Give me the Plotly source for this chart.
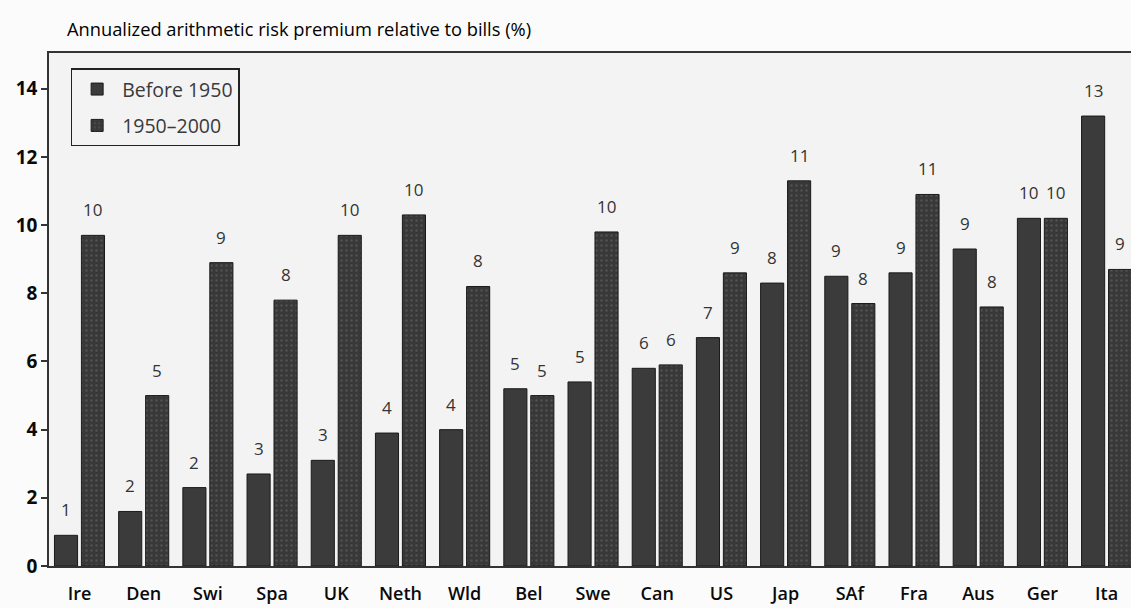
import plotly.graph_objects as go

# Annualized arithmetic equity risk premium relative to bills (%), by market
countries = ["Ire", "Den", "Swi", "Spa", "UK", "Neth", "Wld", "Bel", "Swe",
             "Can", "US", "Jap", "SAf", "Fra", "Aus", "Ger", "Ita"]
before_1950 = [0.9, 1.6, 2.3, 2.7, 3.1, 3.9, 4.0, 5.2, 5.4,
               5.8, 6.7, 8.3, 8.5, 8.6, 9.3, 10.2, 13.2]
after_1950 = [9.7, 5.0, 8.9, 7.8, 9.7, 10.3, 8.2, 5.0, 9.8,
              5.9, 8.6, 11.3, 7.7, 10.9, 7.6, 10.2, 8.7]
series_names = ["Before 1950", "1950\u20132000"]

FONT = "Open Sans"
BG = "#f3f3f3"
BAR_W = 0.36
OFFSETS = [-0.39, 0.03]


def rounded_label(v):
    return str(int(v + 0.5))


x_idx = list(range(len(countries)))

fig = go.Figure()
fig.add_trace(go.Bar(
    x=x_idx, y=before_1950, name=series_names[0], legendgroup="a",
    width=BAR_W, offset=OFFSETS[0],
    marker=dict(color="#3b3b3b", line=dict(color="#1a1a1a", width=1)),
))
fig.add_trace(go.Bar(
    x=x_idx, y=after_1950, name=series_names[1], legendgroup="b",
    width=BAR_W, offset=OFFSETS[1],
    marker=dict(color="#383838", line=dict(color="#1a1a1a", width=1),
                pattern=dict(shape=".", fgcolor="#6a6a6a", bgcolor="#383838",
                             size=5, solidity=0.18)),
))

# value labels above each bar
annotations = []
for series, off in ((before_1950, OFFSETS[0]), (after_1950, OFFSETS[1])):
    for i, v in enumerate(series):
        annotations.append(dict(
            x=i + off + BAR_W / 2, y=v, xref="x", yref="y",
            text=rounded_label(v), showarrow=False,
            yanchor="bottom", yshift=12,
            font=dict(family=FONT, size=17, color="#333"),
        ))

fig.update_layout(
    width=1131, height=608,
    margin=dict(l=49, r=0, t=53, b=42),
    paper_bgcolor="#fbfbfb", plot_bgcolor=BG,
    barmode="overlay",
    title=dict(text="Annualized arithmetic risk premium relative to bills (%)",
               x=67 / 1131, xanchor="left", y=1 - 30 / 608, yanchor="middle",
               font=dict(family=FONT, size=18.3, color="#000")),
    legend=dict(x=0.02, y=0.97, xanchor="left", yanchor="top",
                bgcolor=BG, bordercolor="#222", borderwidth=1.5,
                font=dict(family=FONT, size=19.5, color="#3a3a3a"),
                tracegroupgap=8, itemwidth=40),
    annotations=annotations,
    showlegend=True,
)
fig.update_xaxes(
    tickmode="array", tickvals=x_idx, ticktext=countries,
    range=[-0.475, 16.38], showgrid=False, zeroline=False,
    showline=True, linecolor="#333", linewidth=1.5, mirror=True,
    ticks="", ticklabelstandoff=11,
    tickfont=dict(family=FONT, size=18, weight=600, color="#0a0a0a"),
)
fig.update_yaxes(
    range=[0, 15.05], tickvals=[0, 2, 4, 6, 8, 10, 12, 14],
    showgrid=False, zeroline=False,
    showline=True, linecolor="#333", linewidth=1.5,
    ticks="outside", ticklen=6, tickcolor="#333", tickwidth=1.5,
    tickfont=dict(family=FONT, size=19, weight=700, color="#0a0a0a"),
)

fig.write_html("out.html")
